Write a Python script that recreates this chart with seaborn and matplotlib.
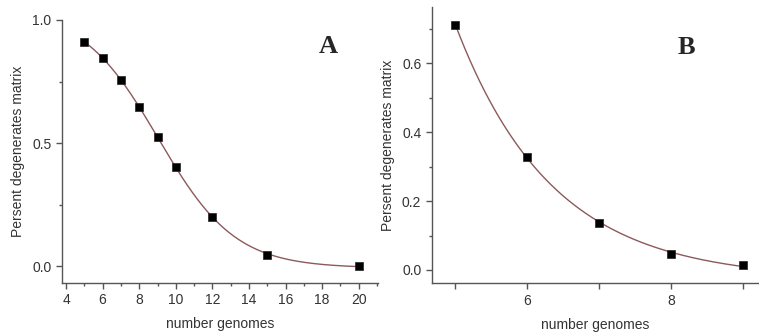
import numpy as np
import pandas as pd
import seaborn as sns
import matplotlib.pyplot as plt
from matplotlib.ticker import MultipleLocator, FixedLocator

# values
genomes_a = [5, 6, 7, 8, 9, 10, 12, 15, 20]
degen_a = [0.912, 0.846, 0.755, 0.646, 0.524, 0.402, 0.200, 0.047, 0.0]

genomes_b = [5, 6, 7, 8, 9]
degen_b = [0.711, 0.328, 0.137, 0.046, 0.015]


def boltzmann(x, p):
    a1, a2, x0, dx = p
    return a2 + (a1 - a2) / (1 + np.exp((x - x0) / dx))


def expdec(x, p):
    y0, a, t = p
    return y0 + a * np.exp(-(x - 5) / t)


def fit(func, x, y, p0, n_iter=200):
    # small Levenberg-Marquardt, just enough for the fitted curves
    x = np.asarray(x, float)
    y = np.asarray(y, float)
    p = np.asarray(p0, float)
    lam = 1e-3
    for _ in range(n_iter):
        r = y - func(x, p)
        J = np.empty((len(x), len(p)))
        for i in range(len(p)):
            dp = np.zeros_like(p)
            dp[i] = 1e-6 * max(1.0, abs(p[i]))
            J[:, i] = (func(x, p + dp) - func(x, p)) / dp[i]
        A = J.T @ J
        step = np.linalg.solve(A + lam * np.diag(np.diag(A)), J.T @ r)
        p_new = p + step
        if np.sum((y - func(x, p_new)) ** 2) < np.sum(r ** 2):
            p = p_new
            lam *= 0.3
        else:
            lam *= 10
    return p


pa = fit(boltzmann, genomes_a, degen_a, [1.0, 0.0, 9.3, 1.8])
pb = fit(expdec, genomes_b, degen_b, [0.0, 0.7, 1.0])

xa = np.linspace(5, 20, 300)
xb = np.linspace(5, 9, 300)
curve_a = pd.DataFrame({'x': xa, 'y': boltzmann(xa, pa)})
curve_b = pd.DataFrame({'x': xb, 'y': expdec(xb, pb)})
pts_a = pd.DataFrame({'x': genomes_a, 'y': degen_a})
pts_b = pd.DataFrame({'x': genomes_b, 'y': degen_b})

sns.set_style('ticks')
plt.rcParams['font.family'] = ['Liberation Sans', 'DejaVu Sans']

fig = plt.figure(figsize=(7.59, 3.33), dpi=100)
ax1 = fig.add_axes([0.0817, 0.150, 0.416, 0.790])
ax2 = fig.add_axes([0.5688, 0.149, 0.430, 0.829])

line_col = '#8c5a5a'
spine_col = '#555555'
text_col = '#333333'

for ax, curve, pts in [(ax1, curve_a, pts_a), (ax2, curve_b, pts_b)]:
    sns.lineplot(data=curve, x='x', y='y', ax=ax, color=line_col, lw=1.0)
    sns.scatterplot(data=pts, x='x', y='y', ax=ax, marker='s', s=34,
                    color='black', edgecolor='#222222', linewidth=0.5, zorder=3)
    sns.despine(ax=ax)
    for s in ['left', 'bottom']:
        ax.spines[s].set_color(spine_col)
        ax.spines[s].set_linewidth(1.0)
    ax.tick_params(which='major', direction='out', length=4, width=1,
                   color=spine_col, labelcolor=text_col, labelsize=10)
    ax.tick_params(which='minor', direction='out', length=2.5, width=1,
                   color=spine_col)
    ax.set_xlabel('number genomes', fontsize=10, color=text_col, labelpad=7)
    ax.set_ylabel('Persent degenerates matrix', fontsize=10, color=text_col,
                  labelpad=5)

# panel A
ax1.set_xlim(3.78, 21.04)
ax1.set_ylim(-0.069, 1.0)
ax1.xaxis.set_major_locator(MultipleLocator(2))
ax1.xaxis.set_minor_locator(MultipleLocator(1))
ax1.yaxis.set_major_locator(FixedLocator([0.0, 0.5, 1.0]))
ax1.yaxis.set_minor_locator(FixedLocator([0.25, 0.75]))
ax1.set_yticklabels(['0.0', '0.5', '1.0'])
ax1.text(0.842, 0.90, 'A', transform=ax1.transAxes, fontsize=19,
         fontweight='bold', family='Liberation Serif', ha='center', va='center')

# panel B
ax2.set_xlim(4.67, 9.21)
ax2.set_ylim(-0.039, 0.763)
ax2.xaxis.set_major_locator(FixedLocator([6, 8]))
ax2.xaxis.set_minor_locator(FixedLocator([5, 7, 9]))
ax2.tick_params(axis='x', which='minor', length=4)
ax2.yaxis.set_major_locator(FixedLocator([0.0, 0.2, 0.4, 0.6]))
ax2.yaxis.set_minor_locator(FixedLocator([0.1, 0.3, 0.5, 0.7]))
ax2.set_yticklabels(['0.0', '0.2', '0.4', '0.6'])
ax2.text(0.78, 0.853, 'B', transform=ax2.transAxes, fontsize=19,
         fontweight='bold', family='Liberation Serif', ha='center', va='center')

fig.savefig('out.png', dpi=100)
